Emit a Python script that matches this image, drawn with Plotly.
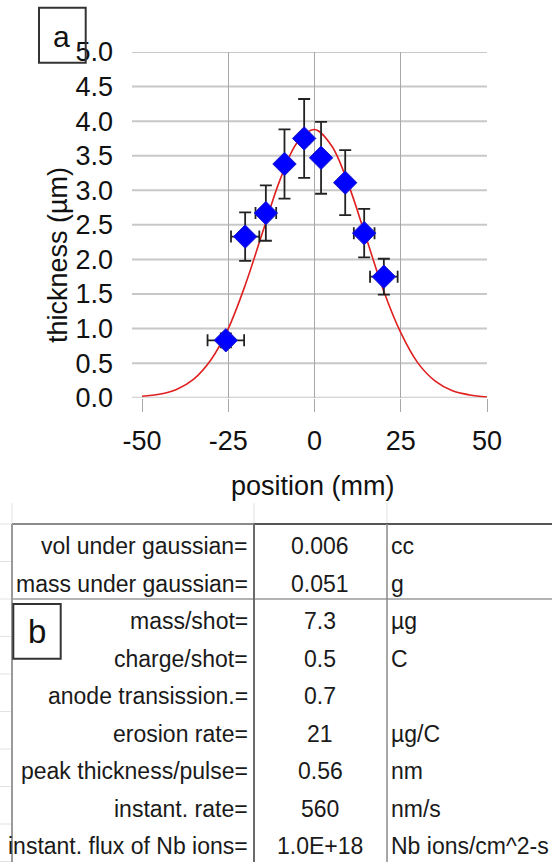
import plotly.graph_objects as go

# ---------------- data ----------------
pos = [-25.7, -20.1, -14.1, -8.7, -3.0, 1.9, 8.9, 14.4, 20.1]          # mm
thick = [0.83, 2.33, 2.67, 3.38, 3.75, 3.47, 3.11, 2.38, 1.75]          # um
thick_err = [0.10, 0.35, 0.40, 0.50, 0.57, 0.52, 0.47, 0.35, 0.26]
pos_err = [5.3, 4.1, 3.0, 1.5, 1.5, 1.5, 1.5, 3.0, 4.0]

fit_x = [-50, -45, -40, -35, -30, -25, -20, -15, -10, -5, 0,
         5, 10, 15, 20, 25, 30, 35, 40, 45, 50]
fit_y = [0.02, 0.05, 0.12, 0.27, 0.55, 1.00, 1.64, 2.40, 3.15, 3.69, 3.88,
         3.64, 3.06, 2.31, 1.55, 0.94, 0.50, 0.24, 0.10, 0.04, 0.01]

x_ticks = [-50, -25, 0, 25, 50]
y_ticks = [0.0, 0.5, 1.0, 1.5, 2.0, 2.5, 3.0, 3.5, 4.0, 4.5, 5.0]

labels = ["vol under gaussian=", "mass under gaussian=", "mass/shot=",
          "charge/shot=", "anode transission.=", "erosion rate=",
          "peak thickness/pulse=", "instant. rate=", "instant. flux of Nb ions="]
values = ["0.006", "0.051", "7.3", "0.5", "0.7", "21", "0.56", "560", "1.0E+18"]
units = ["cc", "g", "µg", "C", "", "µg/C", "nm", "nm/s", "Nb ions/cm^2-s"]

# ---------------- layout geometry (pixels) ----------------
W, H = 552, 862
L, R, T, B = 142, 65, 52, 0
PLOT_BOTTOM = 397.7
FONT = "Liberation Sans, Arial, sans-serif"


def fx(px):
    return (px - L) / (W - L - R)


def fy(py):
    return (H - B - py) / (H - T - B)


fig = go.Figure()

fig.add_trace(go.Scatter(
    x=fit_x, y=fit_y, mode="lines", line=dict(color="#e01f1f", width=1.6, shape="spline"),
    hoverinfo="skip", showlegend=False))

fig.add_trace(go.Scatter(
    x=pos, y=thick, mode="markers",
    marker=dict(symbol="diamond", size=18, color="#0000ff",
                line=dict(color="#1a1acc", width=1)),
    error_y=dict(type="data", array=thick_err, color="#222222", thickness=1.8, width=6),
    error_x=dict(type="data", array=pos_err, color="#222222", thickness=1.8, width=6),
    showlegend=False))

fig.update_xaxes(
    range=[-50, 50], tickvals=x_ticks, ticktext=[str(v) for v in x_ticks],
    showgrid=True, gridcolor="#a8a8a8", gridwidth=1, zeroline=False,
    ticks="outside", ticklen=13, tickcolor="#a8a8a8", tickwidth=1,
    tickfont=dict(family=FONT, size=27, color="#111111"),
    ticklabelstandoff=6, automargin=False, showline=False)

fig.update_yaxes(
    range=[0, 5], tickvals=y_ticks, ticktext=["%.1f" % v for v in y_ticks],
    domain=[fy(PLOT_BOTTOM), 1],
    showgrid=False, zeroline=False, ticks="",
    tickfont=dict(family=FONT, size=27, color="#111111"),
    ticklabelstandoff=28, automargin=False, showline=False)

annotations = []
shapes = []

# horizontal gridlines + outside tick marks of the thickness axis (data coords on y)
for v in y_ticks:
    shapes.append(dict(type="line", xref="paper", yref="y", x0=fx(132), x1=1,
                       y0=v, y1=v, layer="below", line=dict(color="#c8c8c8", width=2)))

# axis titles
annotations.append(dict(text="position (mm)", x=fx(313), y=fy(486), xref="paper", yref="paper",
                        showarrow=False, xanchor="center", yanchor="middle",
                        font=dict(family=FONT, size=27, color="#111111")))
annotations.append(dict(text="thickness (µm)", x=fx(58), y=fy(255), xref="paper", yref="paper",
                        showarrow=False, xanchor="center", yanchor="middle", textangle=-90,
                        font=dict(family=FONT, size=27, color="#111111")))

# panel labels
shapes.append(dict(type="rect", xref="paper", yref="paper",
                   x0=fx(39), x1=fx(85.7), y0=fy(7.7), y1=fy(62.7),
                   line=dict(color="#333333", width=2), fillcolor="rgba(0,0,0,0)", layer="above"))
annotations.append(dict(text="a", x=fx(61), y=fy(37), xref="paper", yref="paper",
                        showarrow=False, xanchor="center", yanchor="middle",
                        font=dict(family=FONT, size=30, color="#111111")))

# ---------------- table ----------------
ROW0 = 524.0
ROWH = 37.5
COL1, COL2 = 254, 387
n = len(labels)

# faint spreadsheet cell lines outside the table
for k in range(n + 1):
    yy = ROW0 + ROWH * k
    shapes.append(dict(type="line", xref="paper", yref="paper", x0=fx(0), x1=fx(11),
                       y0=fy(yy), y1=fy(yy), line=dict(color="#e2e2e2", width=1)))
for xx in (12, COL1, COL2):
    shapes.append(dict(type="line", xref="paper", yref="paper", x0=fx(xx), x1=fx(xx),
                       y0=fy(503), y1=fy(ROW0), line=dict(color="#e0e0e0", width=1)))

# table borders
shapes.append(dict(type="line", xref="paper", yref="paper", x0=fx(12), x1=fx(COL1),
                   y0=fy(ROW0), y1=fy(ROW0), line=dict(color="#8a8a8a", width=2)))
shapes.append(dict(type="line", xref="paper", yref="paper", x0=fx(COL1), x1=fx(W),
                   y0=fy(ROW0), y1=fy(ROW0), line=dict(color="#555555", width=2)))
shapes.append(dict(type="line", xref="paper", yref="paper", x0=fx(12), x1=fx(W),
                   y0=fy(ROW0 + 2 * ROWH), y1=fy(ROW0 + 2 * ROWH),
                   line=dict(color="#9a9a9a", width=1.5)))
shapes.append(dict(type="line", xref="paper", yref="paper", x0=fx(12), x1=fx(12),
                   y0=fy(ROW0), y1=fy(H), line=dict(color="#9a9a9a", width=2)))
shapes.append(dict(type="line", xref="paper", yref="paper", x0=fx(COL1), x1=fx(COL1),
                   y0=fy(ROW0), y1=fy(H), line=dict(color="#6a6a6a", width=2)))
shapes.append(dict(type="line", xref="paper", yref="paper", x0=fx(COL2), x1=fx(COL2),
                   y0=fy(ROW0), y1=fy(H), line=dict(color="#8a8a8a", width=1.5)))

tfont = dict(family=FONT, size=23, color="#1a1a1a")
for i in range(n):
    yc = ROW0 + ROWH * i + ROWH / 2 + 3.5
    annotations.append(dict(text=labels[i], x=fx(250), y=fy(yc), xref="paper", yref="paper",
                            showarrow=False, xanchor="right", yanchor="middle", font=tfont))
    annotations.append(dict(text=values[i], x=fx(320), y=fy(yc), xref="paper", yref="paper",
                            showarrow=False, xanchor="center", yanchor="middle", font=tfont))
    if units[i]:
        annotations.append(dict(text=units[i], x=fx(389), y=fy(yc), xref="paper", yref="paper",
                                showarrow=False, xanchor="left", yanchor="middle", font=tfont))

# panel b box
shapes.append(dict(type="rect", xref="paper", yref="paper",
                   x0=fx(13.3), x1=fx(60.7), y0=fy(604), y1=fy(658.7),
                   line=dict(color="#333333", width=2), fillcolor="white", layer="above"))
annotations.append(dict(text="b", x=fx(37), y=fy(631), xref="paper", yref="paper",
                        showarrow=False, xanchor="center", yanchor="middle",
                        font=dict(family=FONT, size=33, color="#111111")))

fig.update_layout(
    width=W, height=H, margin=dict(l=L, r=R, t=T, b=B, autoexpand=False),
    paper_bgcolor="white", plot_bgcolor="white",
    shapes=shapes, annotations=annotations, showlegend=False)

fig.write_html("out.html", config={"displayModeBar": False},
               post_script="document.body.style.margin='0px';"
                           "document.body.style.overflow='hidden';")
